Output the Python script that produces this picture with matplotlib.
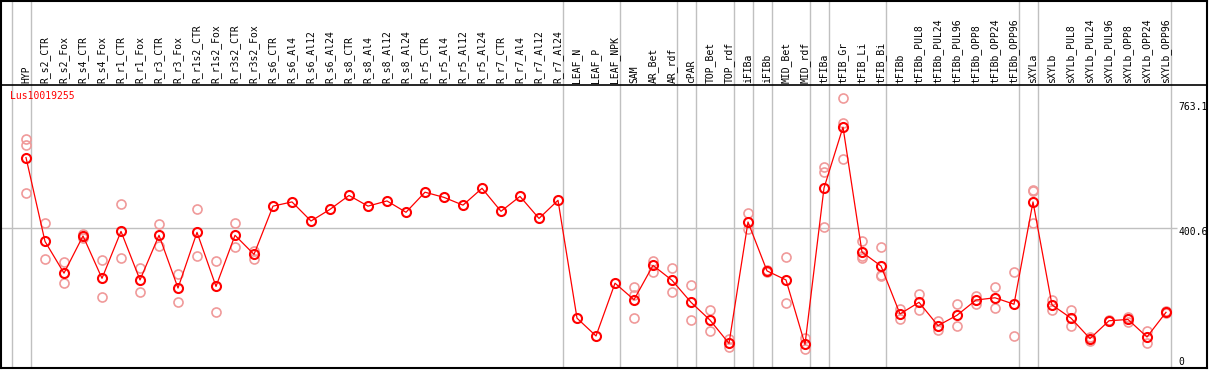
import matplotlib
matplotlib.use("Agg")
import matplotlib.pyplot as plt

# sample names along the top
samples = [
    "HYP", "R_s2_CTR", "R_s2_Fox", "R_s4_CTR", "R_s4_Fox", "R_r1_CTR", "R_r1_Fox",
    "R_r3_CTR", "R_r3_Fox", "R_r1s2_CTR", "R_r1s2_Fox", "R_r3s2_CTR", "R_r3s2_Fox",
    "R_s6_CTR", "R_s6_Al4", "R_s6_Al12", "R_s6_Al24", "R_s8_CTR", "R_s8_Al4",
    "R_s8_Al12", "R_s8_Al24", "R_r5_CTR", "R_r5_Al4", "R_r5_Al12", "R_r5_Al24",
    "R_r7_CTR", "R_r7_Al4", "R_r7_Al12", "R_r7_Al24",
    "LEAF_N", "LEAF_P", "LEAF_NPK", "SAM", "AR_Bet", "AR_rdf", "cPAR",
    "TOP_Bet", "TOP_rdf", "iFIBa", "iFIBb", "MID_Bet", "MID_rdf",
    "tFIBa", "tFIB_Gr", "tFIB_Li", "tFIB_Bi", "tFIBb", "tFIBb_PUL8", "tFIBb_PUL24",
    "tFIBb_PUL96", "tFIBb_OPP8", "tFIBb_OPP24", "tFIBb_OPP96", "sXYLa", "sXYLb",
    "sXYLb_PUL8", "sXYLb_PUL24", "sXYLb_PUL96", "sXYLb_OPP8", "sXYLb_OPP24", "sXYLb_OPP96",
]

# mean expression per sample
means = [
    619, 360, 262, 377, 246, 391, 241, 379, 216, 388, 221, 379, 320,
    469, 482, 423, 459, 502, 469, 485, 450, 512, 496, 472, 524,
    453, 499, 431, 487,
    123, 68, 231, 180, 286, 240, 172, 117, 45, 420, 269, 241, 42,
    525, 713, 327, 284, 136, 172, 100, 132, 179, 186, 166, 482, 164,
    123, 60, 115, 119, 65, 141,
]

# individual replicates (empty where none shown)
replicates = [
    [676, 657, 510], [416, 305], [296, 231], [384, 370], [302, 188], [475, 308],
    [277, 203], [413, 347], [258, 172], [459, 314], [299, 141], [416, 344], [331, 307],
    [], [], [], [], [], [], [], [], [], [], [], [], [], [], [], [],
    [], [], [], [218, 195, 123], [300, 267], [277, 203], [224, 117],
    [148, 83], [59, 35], [447, 398], [272, 265], [312, 170], [61, 27],
    [589, 574, 404], [802, 727, 614], [361, 310, 316], [343, 255, 254],
    [150, 120], [197, 148], [115, 87], [167, 100], [192, 167], [218, 155], [265, 67],
    [519, 515, 416], [178, 149], [148, 98], [64, 52], [117, 113], [128, 111],
    [83, 45], [144, 138],
]

group_sizes = [1, 28, 3, 3, 1, 2, 1, 1, 2, 1, 3, 7, 1, 7]
gene = "Lus10019255"
scale_labels = ["763.1", "400.6", "0"]
scale_label_y = [776, 389, -11]
mid_value = 400.6

fig = plt.figure(figsize=(12.09, 3.70), dpi=100)
ax = fig.add_axes([1 / 1209, 2 / 370, 1206 / 1209, 367.5 / 370])
ax.set_xlim(-1.316, 62.158)
ax.set_ylim(-30.9, 1104)
ax.set_xticks([])
ax.set_yticks([])
for s in ax.spines.values():
    s.set_color("black")
    s.set_linewidth(1.5)

x = list(range(len(samples)))
header_y = 843.2

# group separators
bounds = [-1]
for g in group_sizes:
    bounds.append(bounds[-1] + g)
for b in bounds:
    ax.axvline(b + 0.24, color="#c0c0c0", lw=1, zorder=1)
ax.hlines(mid_value, -1.316, 60.6, color="#c0c0c0", lw=1, zorder=1)
ax.axhline(header_y, color="black", lw=1.2, zorder=2)

# replicates
for xi, reps in zip(x, replicates):
    if reps:
        ax.plot([xi] * len(reps), reps, "o", ms=6.5, mfc="none", mec="#f09a9a",
                mew=1.2, zorder=3)

# means
ax.plot(x, means, "-", color="red", lw=0.9, zorder=4)
ax.plot(x, means, "o", ms=6.5, mfc="none", mec="red", mew=1.5, zorder=5)

# header labels
for xi, name in zip(x, samples):
    ax.text(xi, header_y + 6, name, rotation=90, ha="center", va="bottom",
            family="DejaVu Sans Mono", fontsize=7, color="black")

ax.text(-0.85, header_y - 35, gene, ha="left", va="center",
        family="DejaVu Sans Mono", fontsize=7, color="red")

for lab, yv in zip(scale_labels, scale_label_y):
    ax.text(60.66, yv, lab, ha="left", va="center",
            family="DejaVu Sans Mono", fontsize=7, color="black")

fig.savefig("out.png", dpi=100)
